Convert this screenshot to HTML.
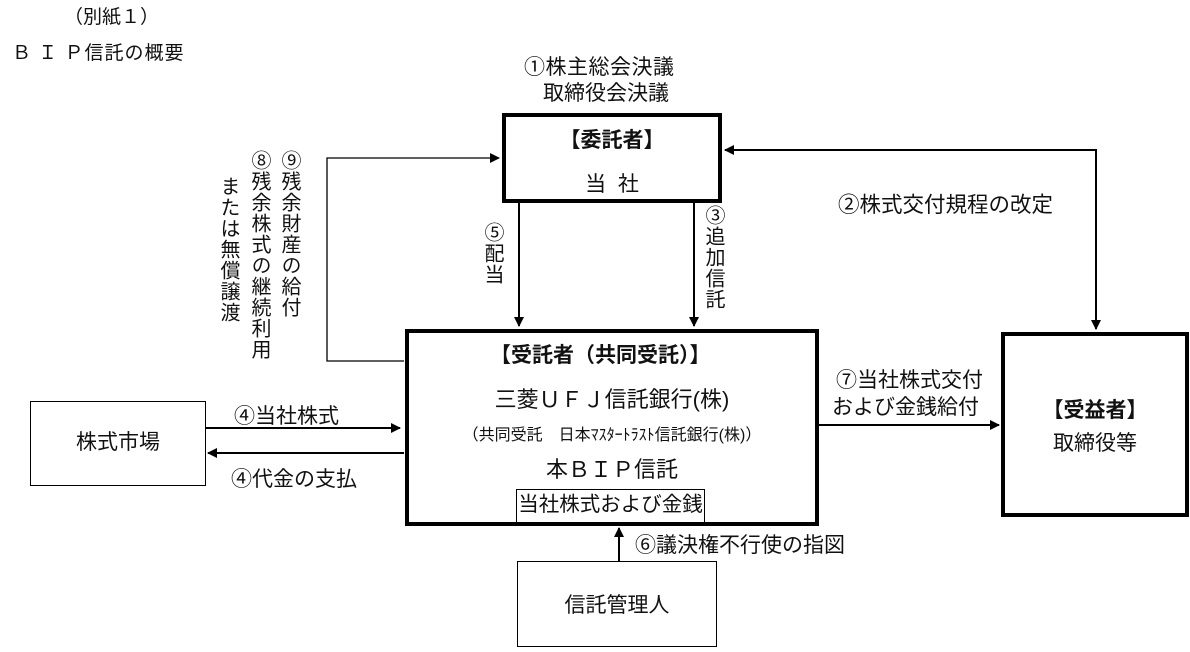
<!DOCTYPE html>
<html><head><meta charset="utf-8"><style>
body{margin:0;width:1190px;height:652px;background:#fff;position:relative;overflow:hidden;font-family:"Liberation Sans","Noto Sans CJK JP",sans-serif;color:#111}
.t{position:absolute;white-space:nowrap;font-size:21px;line-height:1}
.c{position:absolute;white-space:nowrap;font-size:21px;line-height:1;text-align:center}
.v{position:absolute;writing-mode:vertical-rl;font-size:20px;line-height:1;letter-spacing:1px;white-space:nowrap}
.b{position:absolute;box-sizing:border-box;border:solid #000}
svg{position:absolute;left:0;top:0}
</style></head><body>
<svg width="1190" height="652">
<defs><marker id="a" markerWidth="10" markerHeight="10" refX="9" refY="5" orient="auto" markerUnits="userSpaceOnUse"><path d="M0,0 L10,5 L0,10z" fill="#000"/></marker>
<marker id="as" markerWidth="10" markerHeight="10" refX="1" refY="5" orient="auto" markerUnits="userSpaceOnUse"><path d="M10,0 L0,5 L10,10z" fill="#000"/></marker></defs>
<g stroke="#000" stroke-width="2" fill="none">
<polyline points="404,361 327,361 327,158 499,158" marker-end="url(#a)" stroke-width="1.3"/>
<line x1="519" y1="203" x2="519" y2="326" marker-end="url(#a)"/>
<line x1="694" y1="203" x2="694" y2="326" marker-end="url(#a)"/>
<polyline points="725,150 1096,150 1096,329" marker-start="url(#as)" marker-end="url(#a)"/>
<line x1="206" y1="428" x2="400" y2="428" marker-end="url(#a)"/>
<line x1="404" y1="453" x2="208" y2="453" marker-end="url(#a)"/>
<line x1="818" y1="425" x2="999" y2="425" marker-end="url(#a)"/>
<line x1="619" y1="561" x2="619" y2="528" marker-end="url(#a)"/>
</g></svg>
<div class="t" style="left:64px;top:8px;font-size:19px">（別紙１）</div>
<div class="t" style="left:12px;top:44px;font-size:19px;letter-spacing:1px">Ｂ Ｉ Ｐ信託の概要</div>
<div class="t" style="left:524px;top:57px;letter-spacing:0.5px">①株主総会決議</div>
<div class="t" style="left:543px;top:83px">取締役会決議</div>
<div class="b" style="left:502px;top:113px;width:220px;height:90px;border-width:4px"></div>
<div class="c" style="left:502px;width:220px;top:130px;font-weight:bold">【委託者】</div>
<div class="c" style="left:502px;width:220px;top:174px">当&nbsp;&nbsp;社</div>
<div class="v" style="left:279px;top:150px">⑨残余財産の給付</div>
<div class="v" style="left:249px;top:150px">⑧残余株式の継続利用</div>
<div class="v" style="left:218px;top:176px">または無償譲渡</div>
<div class="v" style="left:482px;top:222px">⑤配当</div>
<div class="v" style="left:703px;top:205px">③追加信託</div>
<div class="t" style="left:838px;top:195px;font-size:21.5px">②株式交付規程の改定</div>
<div class="b" style="left:405px;top:329px;width:414px;height:197px;border-width:4px"></div>
<div class="t" style="left:490px;top:345px;font-weight:bold">【受託者（共同受託）】</div>
<div class="c" style="left:405px;width:414px;top:389px;font-size:22px">三菱ＵＦＪ信託銀行(株)</div>
<div class="c" style="left:405px;width:414px;top:428px;font-size:16px">（共同受託　日本ﾏｽﾀｰﾄﾗｽﾄ信託銀行(株)）</div>
<div class="c" style="left:405px;width:414px;top:459px;font-size:22px">本ＢＩＰ信託</div>
<div class="b" style="left:516px;top:489px;width:189px;height:33px;border-width:1px 1px 0 1px"></div>
<div class="c" style="left:516px;width:189px;top:495px;font-size:20.5px">当社株式および金銭</div>
<div class="b" style="left:30px;top:401px;width:176px;height:85px;border-width:1px"></div>
<div class="c" style="left:30px;width:176px;top:432px">株式市場</div>
<div class="t" style="left:234px;top:406px">④当社株式</div>
<div class="t" style="left:231px;top:469px">④代金の支払</div>
<div class="t" style="left:836px;top:370px">⑦当社株式交付</div>
<div class="t" style="left:832px;top:397px">および金銭給付</div>
<div class="b" style="left:1001px;top:332px;width:188px;height:185px;border-width:4px"></div>
<div class="c" style="left:1001px;width:188px;top:400px;font-weight:bold">【受益者】</div>
<div class="c" style="left:1001px;width:188px;top:433px">取締役等</div>
<div class="t" style="left:635px;top:535px">⑥議決権不行使の指図</div>
<div class="b" style="left:517px;top:561px;width:200px;height:86px;border-width:1px"></div>
<div class="c" style="left:517px;width:200px;top:595px">信託管理人</div>
</body></html>
